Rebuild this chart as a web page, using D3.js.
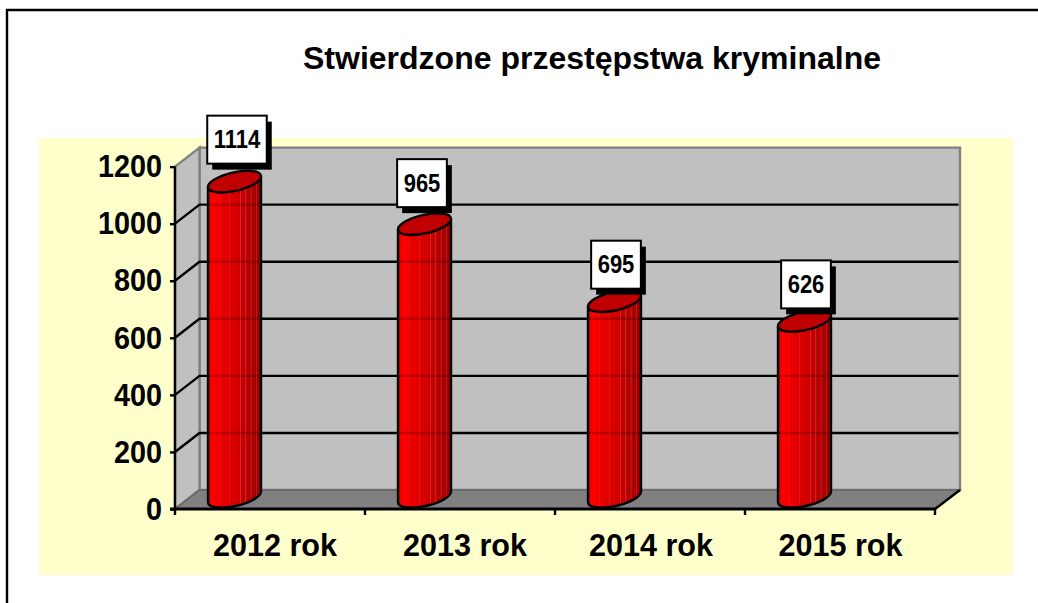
<!DOCTYPE html>
<html><head><meta charset="utf-8">
<style>html,body{margin:0;padding:0;background:#fff}svg{display:block}text{font-family:"Liberation Sans",Arial,sans-serif;font-weight:bold;fill:#000}</style>
<script src="https://cdn.jsdelivr.net/npm/d3@7"></script></head><body>
<script>
const title = "Stwierdzone przestępstwa kryminalne";
const categories = ["2012 rok","2013 rok","2014 rok","2015 rok"];
const values = [1114,965,695,626];
const yTicks = [0,200,400,600,800,1000,1200];

const W=1038,H=603;
const svg=d3.select("body").append("svg").attr("width",W).attr("height",H);
const F={l:175,r:935,b:509,t:166.6}, DX=24.5, DY=-19;
const x=d3.scaleBand().domain(categories).range([F.l,F.r]);
const y=d3.scaleLinear().domain([0,1200]).range([F.b,F.t]);
// narrow text the way the source's condensed rendering does
const squeeze=(sel,k)=>sel.each(function(){const n=this;n.setAttribute("textLength",n.getComputedTextLength()*k);n.setAttribute("lengthAdjust","spacingAndGlyphs");});

// frame (top and left only) and background
svg.append("path").attr("d",`M7,${H}V10H${W}`).attr("fill","none").attr("stroke","#000").attr("stroke-width",2.4);
svg.append("rect").attr("x",39).attr("y",138).attr("width",974).attr("height",437).attr("fill","#FFFFCC");
svg.append("text").attr("x",592).attr("y",68.5).attr("text-anchor","middle").attr("font-size",32).text(title);

// gradient with streaks
const defs=svg.append("defs");
const g=defs.append("linearGradient").attr("id","bar").attr("x1",0).attr("x2",1).attr("y1",0).attr("y2",0);
[[0,"#d00000"],[.05,"#f00000"],[.1,"#ff0000"],[.2,"#f20000"],[.21,"#ff2a2a"],[.22,"#ea0000"],[.4,"#e00000"],[.41,"#ee2020"],[.42,"#dc0000"],[.58,"#d00000"],[.6,"#c80000"],[.61,"#dc2a2a"],[.63,"#c40000"],[.7,"#c00000"],[.71,"#d03030"],[.73,"#b80000"],[.8,"#b40000"],[.81,"#c83030"],[.83,"#ac0000"],[.9,"#a80000"],[.91,"#b82828"],[.93,"#a00000"],[1,"#900000"]]
 .forEach(s=>g.append("stop").attr("offset",s[0]).attr("stop-color",s[1]));

// walls and floor
const pts=a=>a.map(p=>p.join(",")).join(" ");
const backL=F.l+DX, backR=F.r+DX+.5, backB=F.b+DY, backT=F.t+DY;
svg.append("polygon").attr("points",pts([[backL,backT],[backR,backT],[backR,backB],[backL,backB]])).attr("fill","#C0C0C0").attr("stroke","#808080").attr("stroke-width",2.4);
svg.append("polygon").attr("points",pts([[F.l,F.t],[backL,backT],[backL,backB],[F.l,F.b]])).attr("fill","#C0C0C0").attr("stroke","#808080").attr("stroke-width",2.4);
svg.append("polygon").attr("points",pts([[F.l,F.b],[backL,backB],[backR,backB],[F.r,F.b]])).attr("fill","#808080").attr("stroke","#666").attr("stroke-width",1.5);
svg.append("line").attr("x1",F.r).attr("y1",F.b).attr("x2",backR).attr("y2",backB).attr("stroke","#000").attr("stroke-width",2.4);

// gridlines
const grid=yTicks.filter(t=>t>0 && t<1200);
svg.selectAll(".g").data(grid).enter().append("polyline").attr("fill","none").attr("stroke","#000").attr("stroke-width",2.4)
 .attr("points",d=>pts([[F.l,y(d)],[backL,y(d)+DY],[backR-1.5,y(d)+DY]]));

// cylinders
const A=27.1,B=9.25,ROT=-12.8,HW=26.5,RISE=5.3,BAR_SHIFT=-35.5;
const cx=d=>x(d)+x.bandwidth()/2+BAR_SHIFT;
const topY=v=>y(v)+DY/2, baseY=y(0)+DY/2-2.5;
const bars=svg.selectAll(".bar").data(categories).enter().append("g");
bars.append("path").attr("fill","url(#bar)").attr("stroke","#000").attr("stroke-width",2.4).attr("stroke-linejoin","round")
 .attr("d",(d,i)=>{const c=cx(d),t=topY(values[i]);
   return `M${c-HW},${t+RISE}L${c-HW},${baseY+RISE}A${A},${B} ${ROT} 0 0 ${c+HW},${baseY-RISE}L${c+HW},${t-RISE}Z`;});
// gridlines show faintly through the bars
bars.each(function(d,i){
  d3.select(this).selectAll("line").data(grid.filter(t=>t<values[i]-30)).enter().append("line")
   .attr("x1",cx(d)-HW+1).attr("x2",cx(d)+HW-1).attr("y1",t=>y(t)+DY).attr("y2",t=>y(t)+DY)
   .attr("stroke","#000").attr("stroke-opacity",.2).attr("stroke-width",2.4);
});
bars.append("ellipse").attr("rx",A).attr("ry",B).attr("fill","#C00000").attr("stroke","#000").attr("stroke-width",2.4)
 .attr("transform",(d,i)=>`translate(${cx(d)},${topY(values[i])}) rotate(${ROT})`);

// value labels
const nudgeX=[2.5,-2.5,1.5,1.5], nudgeY=[-42,-41,-36.5,-36.5], boxH=48, pad=6.5;
bars.each(function(d,i){
  const s=d3.select(this), c=cx(d)+nudgeX[i], m=topY(values[i])+nudgeY[i];
  const tx=s.append("text").attr("x",c).attr("y",m+8.5).attr("text-anchor","middle").attr("font-size",25).text(values[i]);
  const w=tx.node().getComputedTextLength()*.88+2*pad;
  squeeze(tx,.88);
  s.insert("rect","text").attr("x",c-w/2+5).attr("y",m-boxH/2+6).attr("width",w).attr("height",boxH).attr("fill","#000");
  s.insert("rect","text").attr("x",c-w/2).attr("y",m-boxH/2).attr("width",w).attr("height",boxH).attr("fill","#fff").attr("stroke","#000").attr("stroke-width",2);
});

// axes
const ya=svg.append("g").attr("transform",`translate(${F.l},0)`).call(d3.axisLeft(y).tickValues(yTicks).tickFormat(d3.format("d")).tickSize(5).tickPadding(8));
ya.selectAll("path,line").attr("stroke","#000").attr("stroke-width",2.4);
ya.selectAll("text").attr("font-size",32).attr("font-family",null).call(squeeze,.9);
ya.select(".domain").attr("d",`M0,${F.t}V${F.b}`);
const xa=svg.append("g").attr("transform",`translate(0,${F.b})`);
xa.append("line").attr("x1",F.l-5).attr("x2",F.r).attr("stroke","#000").attr("stroke-width",3);
const edges=categories.map(c=>x(c)).concat(F.r);
xa.selectAll(".t").data(edges).enter().append("line").attr("x1",d=>d).attr("x2",d=>d).attr("y1",0).attr("y2",6).attr("stroke","#000").attr("stroke-width",2.4);
const catNudge=[5,5,1,.5];
xa.selectAll(".l").data(categories).enter().append("text").attr("x",(d,i)=>x(d)+x.bandwidth()/2+catNudge[i]).attr("y",47).attr("text-anchor","middle").attr("font-size",32).text(d=>d).call(squeeze,.955);
</script></body></html>
